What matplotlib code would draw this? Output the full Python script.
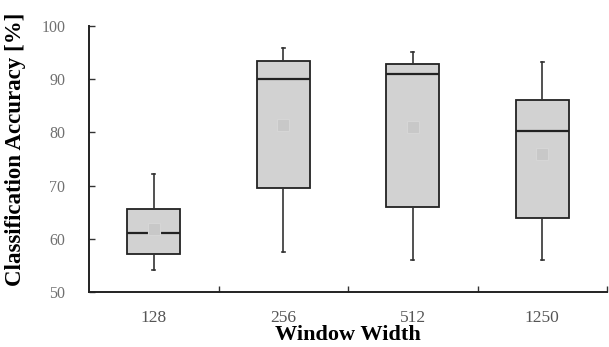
import matplotlib
matplotlib.use("Agg")
import matplotlib.pyplot as plt

# Summary statistics of classification accuracy per window width
window_widths = ["128", "256", "512", "1250"]
whisker_low = [54.1, 57.5, 56.1, 56.1]
q1 = [57.1, 69.5, 66.0, 64.0]
median = [61.1, 90.0, 91.0, 80.3]
q3 = [65.6, 93.5, 92.9, 86.1]
whisker_high = [72.1, 95.9, 95.1, 93.3]
mean = [61.8, 81.3, 81.0, 76.0]

y_ticks = [50, 60, 70, 80, 90, 100]

plt.rcParams["font.family"] = ["Liberation Serif", "DejaVu Serif"]

fig = plt.figure(figsize=(6.09, 3.47), dpi=100)
ax = fig.add_axes([89 / 609, 55 / 347, 518 / 609, 266 / 347])

stats = []
for i, name in enumerate(window_widths):
    stats.append(dict(label=name, whislo=whisker_low[i], q1=q1[i], med=median[i],
                      q3=q3[i], whishi=whisker_high[i], mean=mean[i], fliers=[]))

positions = list(range(len(window_widths)))
ax.bxp(stats, positions=positions, widths=0.41, patch_artist=True,
       showmeans=True, showfliers=False,
       boxprops=dict(facecolor="#d2d2d2", edgecolor="#222222", linewidth=1.3),
       medianprops=dict(color="#222222", linewidth=1.6),
       whiskerprops=dict(color="#333333", linewidth=1.2),
       capprops=dict(color="#333333", linewidth=1.2),
       capwidths=0.02,
       meanprops=dict(marker="s", markersize=9, markerfacecolor="#c8c8c8",
                      markeredgecolor="#d6d6d6", markeredgewidth=0.8))

ax.set_xlim(-0.5, len(window_widths) - 0.5)
ax.set_ylim(50, 100)
ax.set_yticks(y_ticks)
ax.set_xticks(positions)
ax.set_xticklabels(window_widths)
ax.set_xticks([p + 0.5 for p in positions], minor=True)

for side in ("top", "right"):
    ax.spines[side].set_visible(False)
for side in ("left", "bottom"):
    ax.spines[side].set_linewidth(1.4)
    ax.spines[side].set_color("#222222")

ax.tick_params(axis="y", direction="in", length=4, width=1, colors="#333333",
               labelcolor="#707070", labelsize=11.5, pad=17)
ax.tick_params(axis="x", which="major", length=0, labelcolor="#555555",
               labelsize=12.5, pad=13)
ax.tick_params(axis="x", which="minor", direction="in", length=4, width=1,
               colors="#333333")

ax.set_xlabel("Window Width", fontsize=16, fontweight="bold", labelpad=-1)
ax.set_ylabel("Classification Accuracy [%]", fontsize=16.5, fontweight="bold")
ax.yaxis.set_label_coords(-0.122, 0.535)

fig.savefig("out.png", dpi=100)
